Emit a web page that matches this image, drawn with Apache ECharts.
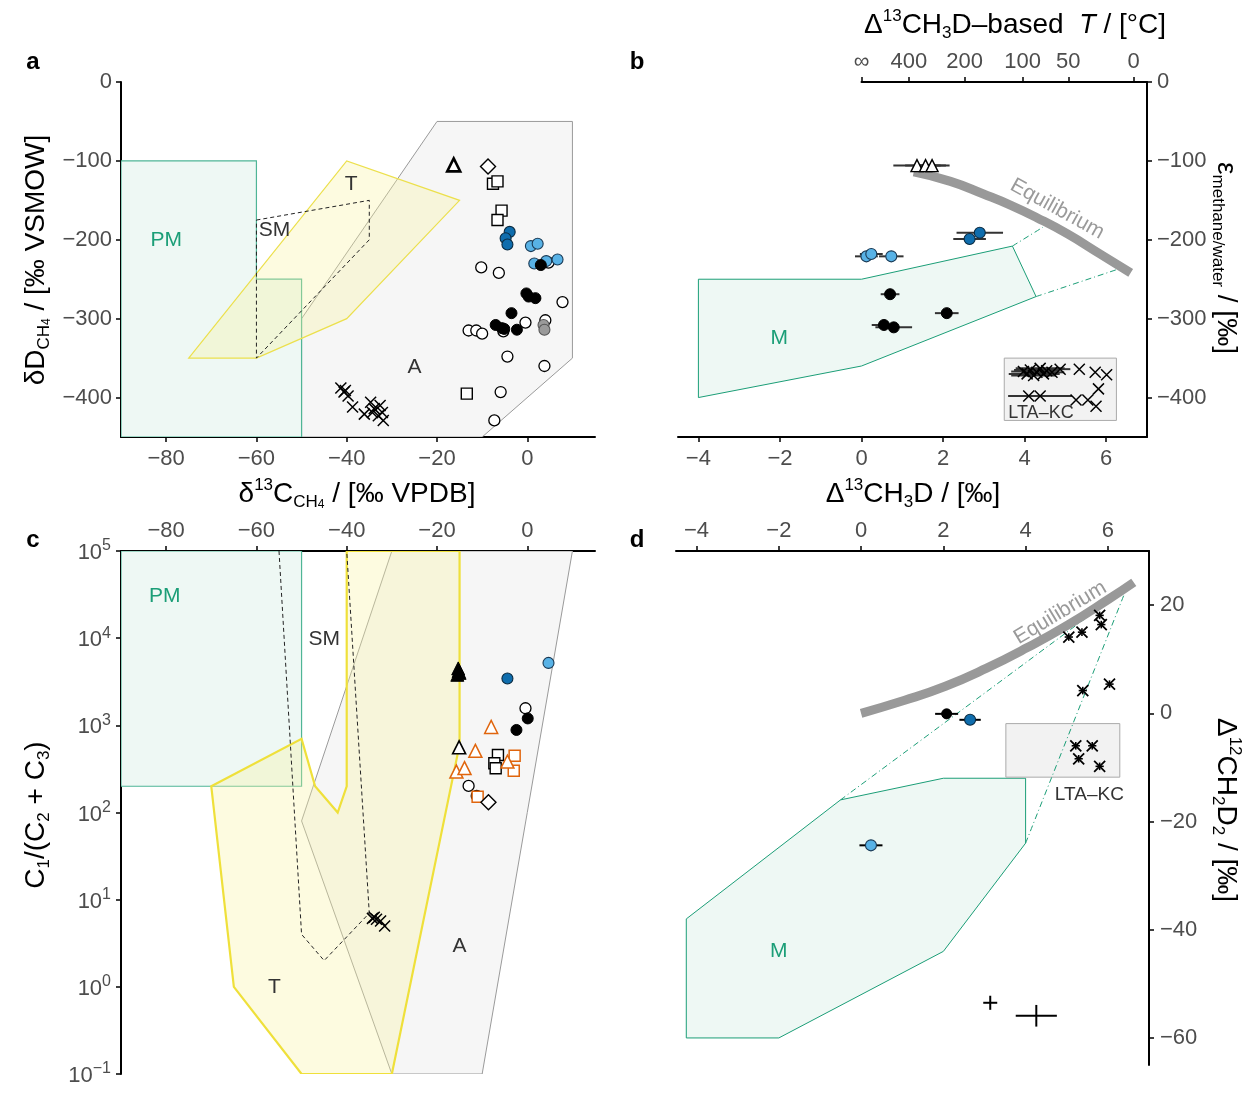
<!DOCTYPE html>
<html><head><meta charset="utf-8">
<script src="https://cdn.jsdelivr.net/npm/echarts@6/dist/echarts.min.js"></script>
<style>html,body{margin:0;padding:0;background:#fff}#c{width:1259px;height:1100px}</style>
</head><body><div id="c"></div>
<script>
// ---------------- tick labels ----------------
const aXTicks = [-80, -60, -40, -20, 0];
const aYTicks = [0, -100, -200, -300, -400];
const bXTicks = [-4, -2, 0, 2, 4, 6];
const bYTicks = [0, -100, -200, -300, -400];
const tTickLabels = ['\u221e', '400', '200', '100', '50', '0'];
const tTickPos = [0, 1.16, 2.53, 3.95, 5.07, 6.67];
const cXTicks = [-80, -60, -40, -20, 0];
const dXTicks = [-4, -2, 0, 2, 4, 6];
const dYTicks = [20, 0, -20, -40, -60];

// ---------------- panel a : dD vs d13C ----------------
const aRegionPM = [[-90,-100],[-60,-100],[-60,-250],[-50,-250],[-50,-450],[-90,-450]];
const aRegionT = [[-75,-350],[-40,-100],[-15,-150],[-40,-300],[-60,-350]];
const aRegionSM = [[-60,-175],[-35,-150],[-35,-200],[-60,-350]];
const aRegionA = [[-20,-50],[10,-50],[10,-350],[-10,-450],[-50,-450],[-50,-300]];
const aOpenCircles = [[-10.2,-235],[-6.3,-242],[7.8,-279],[-0.4,-305],[-13.0,-315],[-11.3,-315],[-10.0,-319],[-5.3,-316],[4.0,-302],[4.7,-229],[-4.4,-348],[3.8,-360],[-5.9,-393],[-7.3,-429]];
const aGreyCircles = [[3.6,-308],[3.8,-314]];
const aLightBlue = [[0.8,-208],[2.3,-205],[1.55,-230],[4.2,-227],[6.7,-225]];
const aBlackCircles = [[3.0,-232],[-0.2,-268],[0.3,-272],[1.8,-274],[-3.5,-293],[-7.0,-308],[-5.6,-312],[-5.1,-313],[-2.3,-314]];
const aDarkBlue = [[-3.9,-190],[-4.8,-198],[-4.4,-206]];
const aSquares = [[-7.6,-129],[-6.6,-126],[-5.7,-163],[-6.6,-175],[-13.4,-395]];
const aTriangles = [[-16.3,-105]];
const aDiamonds = [[-8.7,-107]];
const aCrosses = [[-41.3,-388],[-40.3,-391],[-40.6,-393],[-39.7,-398],[-38.7,-412],[-36.1,-421],[-34.7,-406],[-33.9,-414],[-34.3,-419],[-32.6,-410],[-32.1,-419],[-33.0,-423],[-31.9,-429]];
const aLabels = ['PM','T','SM','A'];
const aLabelPos = [[-80,-200],[-39,-130],[-56,-188],[-25,-362]];

// ---------------- panel b : epsilon vs D13CH3D ----------------
const bRegionM = [[-4,-250],[0,-250],[3.7,-208],[4.28,-272],[0,-360],[-4,-400]];
const bBoxLTA = [[3.5,-350],[6.25,-350],[6.25,-429],[3.5,-429]];
const bDash1 = [[3.7,-208],[4.45,-184]];
const bDash2 = [[4.28,-272],[6.42,-235]];
const bEquilibrium = [[1.28,-114],[2.18,-126],[2.99,-142],[3.65,-156],[4.3,-172],[5.03,-192],[5.85,-218],[6.6,-242]];
// [x, y, x-error]
const bTriangles = [[1.36,-106,0.58],[1.57,-106,0.5],[1.73,-106,0.43]];
const bDarkBlue = [[2.90,-191,0.57],[2.65,-199,0.4]];
const bLightBlue = [[0.12,-221,0.28],[0.24,-218,0.28],[0.73,-221,0.3]];
const bBlack = [[0.70,-269,0.23],[2.09,-293,0.29],[0.55,-308,0.3],[0.79,-311,0.45]];
const bCrosses = [[3.97,-367,0.3],[4.06,-370,0.45],[4.14,-365,0.4],[4.22,-372,0.55],[4.30,-368,0.35],[4.38,-363,0.6],[4.46,-370,0.4],[4.54,-366,0.3],[4.67,-368,0.3],[4.87,-364,0.25],[5.34,-364,0],[5.73,-368,0],[6.01,-371,0],[4.10,-398,0.5],[4.38,-398,0.78],[5.26,-403,0],[5.55,-403,0],[5.81,-389,0],[5.75,-411,0]];
const bLabels = ['M','Equilibrium','LTA\u2013KC'];
const bLabelPos = [[-2.02,-325],[4.8,-161],[4.4,-419]];

// ---------------- panel c : C1/(C2+C3) vs d13C ----------------
const cRegionPM = [[-90,200],[-50,200],[-50,100000],[-90,100000]];
const cRegionT = [[-70,200],[-50,700],[-47,200],[-42,100],[-40,200],[-40,100000],[-15,100000],[-15,600],[-30,0.1],[-50,0.1],[-65,1]];
const cRegionA = [[-30,100000],[10,100000],[-10,0.1],[-30,0.1],[-50,80]];
const cRegionSM = [[-55,100000],[-50,4],[-45,2],[-35,7],[-40,100000]];
const cBlackTriangles = [[-15.3,4500],[-15.0,4000],[-15.5,3800],[-15.2,4200]];
const cOpenTriangles = [[-15.1,560]];
const cOrangeTriangles = [[-8.0,960],[-11.5,510],[-15.7,295],[-13.9,323],[-4.4,384]];
const cDarkBlue = [[-4.4,3450]];
const cLightBlue = [[4.7,5200]];
const cOpenCircles = [[-0.4,1570],[-13.0,202],[-11.2,155]];
const cBlackCircles = [[0.1,1200],[-2.4,885]];
const cSquares = [[-6.5,457],[-7.3,367],[-7.0,322]];
const cOrangeSquares = [[-2.8,447],[-3.0,302],[-11.0,152]];
const cDiamonds = [[-8.6,131]];
const cCrosses = [[-34.3,6.1],[-33.4,5.96],[-32.5,5.7],[-31.6,5.0],[-33.9,6.3]];
const cLabels = ['PM','SM','T','A'];
const cLabelPos = [[-80.3,30000],[-45,9800],[-56,1],[-15,2.9]];

// ---------------- panel d : D12CH2D2 vs D13CH3D ----------------
const dRegionM = [[-4.25,-38],[-4.25,-60],[-2,-60],[2,-44],[4,-24],[4,-12],[2,-12],[-0.5,-16]];
const dBoxLTA = [[3.52,-1.9],[6.29,-1.9],[6.29,-11.8],[3.52,-11.8]];
const dDash1 = [[-0.5,-16],[6.46,23.2]];
const dDash2 = [[4.0,-24],[6.46,23.2]];
const dEquilibrium = [[0,0],[1.06,2.4],[2.05,5.0],[3.04,8.3],[4.03,12.1],[5.02,16.3],[6.02,21.1],[6.63,24.2]];
// [x, y, x-error, y-error]
const dBlack = [[2.08,-0.1,0.28,0.9]];
const dDarkBlue = [[2.65,-1.2,0.26,0]];
const dLightBlue = [[0.24,-24.4,0.28,0]];
const dCrosses = [[5.80,18.1,0.1,0.7],[5.84,16.4,0.1,0.7],[5.05,14.1,0.1,0.7],[5.37,15.0,0.1,0.7],[6.04,5.4,0.1,0.7],[5.39,4.2,0.1,0.7],[5.22,-6.0,0.1,0.7],[5.62,-6.0,0.1,0.7],[5.29,-8.4,0.1,0.7],[5.80,-9.8,0.1,0.7]];
const dRefErrors = [[3.14,-53.5,0.17,1.3],[4.26,-55.9,0.5,2.0]];
const dLabels = ['M','Equilibrium','LTA\u2013KC'];
const dLabelPos = [[-2,-44],[4.84,18.6],[5.55,-15.1]];

// ---------------- styling ----------------
const FONT = '"Liberation Sans", Arial, Helvetica, sans-serif';
const GREEN = '#1b9e77';
const MINT = '#eef8f4';
const DBLUE = '#0f6dad';
const LBLUE = '#58b2e6';
const ORANGE = '#e0650d';
const TICKC = '#4d4d4d';
const TFS = 22;
const minus = v => String(v).replace('-', '\u2212');

function vAxis(grid, pos, min, max, ticks, extra) {
  const ax = {
    gridIndex: grid, type: 'value', position: pos, min, max,
    splitLine: {show: false},
    axisLine: {show: true, onZero: false, lineStyle: {color: '#000', width: 2}},
    axisTick: {show: true, length: 5, lineStyle: {color: '#000', width: 1.5}},
    axisLabel: {color: TICKC, fontSize: TFS, fontFamily: FONT, margin: 9, formatter: minus}
  };
  if (ticks) { ax.axisTick.customValues = ticks; ax.axisLabel.customValues = ticks; }
  if (extra) {
    for (const k in extra) {
      if (typeof extra[k] === 'object' && ax[k]) Object.assign(ax[k], extra[k]); else ax[k] = extra[k];
    }
  }
  return ax;
}

function poly(p, pts, style, z, closed) {
  return {
    type: 'custom', xAxisIndex: p, yAxisIndex: p, data: pts, z, silent: true, clip: true,
    renderItem(params, api) {
      if (params.dataIndex !== 0) return;
      const points = pts.map(q => api.coord(q));
      return {type: closed === false ? 'polyline' : 'polygon', shape: {points}, style};
    }
  };
}
function sc(p, data, symbol, size, fill, stroke, bw, z) {
  return {
    type: 'scatter', xAxisIndex: p, yAxisIndex: p, data: data.map(d => [d[0], d[1]]),
    symbol, symbolSize: size, z: z || 8, silent: true,
    itemStyle: {color: fill, borderColor: stroke, borderWidth: bw, opacity: 1}
  };
}
function errs(p, data, color, lw, z) {
  return {
    type: 'custom', xAxisIndex: p, yAxisIndex: p, z: z || 6, silent: true,
    data: data.map(d => [d[0], d[1], d[2] || 0, d[3] || 0]),
    renderItem(params, api) {
      const x = api.value(0), y = api.value(1), ex = api.value(2), ey = api.value(3);
      const ch = [];
      if (ex > 0) {
        const a = api.coord([x - ex, y]), b = api.coord([x + ex, y]);
        ch.push({type: 'line', shape: {x1: a[0], y1: a[1], x2: b[0], y2: b[1]}, style: {stroke: color, lineWidth: lw}});
      }
      if (ey > 0) {
        const a = api.coord([x, y - ey]), b = api.coord([x, y + ey]);
        ch.push({type: 'line', shape: {x1: a[0], y1: a[1], x2: b[0], y2: b[1]}, style: {stroke: color, lineWidth: lw}});
      }
      return {type: 'group', children: ch};
    }
  };
}
function line(p, data, color, width, dash, z) {
  return {
    type: 'line', xAxisIndex: p, yAxisIndex: p, data, smooth: true, symbol: 'none', z: z || 5, silent: true,
    lineStyle: {color, width, type: dash || 'solid', cap: 'butt'}
  };
}
function texts(p, labels, pos, colors, sizes, rots) {
  return {
    type: 'custom', xAxisIndex: p, yAxisIndex: p, data: pos, z: 12, silent: true, clip: false,
    renderItem(params, api) {
      const i = params.dataIndex;
      const c = api.coord([api.value(0), api.value(1)]);
      return {type: 'text', x: c[0], y: c[1], rotation: (rots ? rots[i] : 0) * Math.PI / 180,
        style: {text: labels[i], fill: colors[i], font: sizes[i] + 'px ' + FONT,
          align: 'center', verticalAlign: 'middle', textAlign: 'center', textVerticalAlign: 'middle'}};
    }
  };
}

const CROSS = 'path://M0,0L10,10M10,0L0,10';
const series = [];
// panel a
series.push(poly(0, aRegionA, {fill: '#f6f6f6', stroke: '#9a9a9a', lineWidth: 1}, 1));
series.push(poly(0, aRegionPM, {fill: MINT, stroke: '#4fb596', lineWidth: 1.2}, 2));
series.push(poly(0, aRegionT, {fill: 'rgba(250,244,160,0.32)', stroke: '#ece04c', lineWidth: 1.2}, 3));
series.push(poly(0, aRegionSM, {fill: 'none', stroke: '#222', lineWidth: 1, lineDash: [4, 3]}, 4));
series.push(sc(0, aCrosses, CROSS, 11, 'rgba(0,0,0,0)', '#000', 1.5));
series.push(sc(0, aOpenCircles, 'circle', 11, '#fff', '#000', 1.3));
series.push(sc(0, aGreyCircles, 'circle', 11, '#9a9a9a', '#555', 1.1));
series.push(sc(0, aLightBlue, 'circle', 11, LBLUE, '#1a3a55', 1.1));
series.push(sc(0, aBlackCircles, 'circle', 11, '#000', '#000', 1));
series.push(sc(0, aDarkBlue, 'circle', 11, DBLUE, '#0a2a40', 1.1));
series.push(sc(0, aSquares, 'rect', 11, '#fff', '#000', 1.4));
series.push(sc(0, aTriangles, 'triangle', 13, '#fff', '#000', 2.6));
series.push(sc(0, aDiamonds, 'diamond', 15, '#fff', '#000', 1.4));
series.push(texts(0, aLabels, aLabelPos, [GREEN, '#333', '#333', '#333'], [21, 21, 21, 21]));
// panel b
series.push(poly(1, bRegionM, {fill: MINT, stroke: GREEN, lineWidth: 1}, 2));
series.push(poly(1, bBoxLTA, {fill: '#f2f2f2', stroke: '#aaa', lineWidth: 1}, 2));
series.push(line(1, bDash1, GREEN, 1, [6, 3, 1, 3]));
series.push(line(1, bDash2, GREEN, 1, [6, 3, 1, 3]));
series.push(line(1, bEquilibrium, '#999', 9));
series.push(errs(1, bCrosses, '#333', 2));
series.push(errs(1, bTriangles, '#333', 2));
series.push(errs(1, bDarkBlue, '#333', 2));
series.push(errs(1, bLightBlue, '#333', 2));
series.push(errs(1, bBlack, '#333', 2));
series.push(sc(1, bCrosses, CROSS, 11, 'rgba(0,0,0,0)', '#000', 1.5));
series.push(sc(1, bTriangles, 'triangle', 12, '#fff', '#000', 1.4));
series.push(sc(1, bDarkBlue, 'circle', 11, DBLUE, '#0a2a40', 1.1));
series.push(sc(1, bLightBlue, 'circle', 11, LBLUE, '#1a3a55', 1.1));
series.push(sc(1, bBlack, 'circle', 11, '#000', '#000', 1));
series.push(texts(1, bLabels, bLabelPos, [GREEN, '#9a9a9a', '#333'], [21, 21, 18], [0, -29, 0]));
// panel c
series.push(poly(3, cRegionA, {fill: '#f6f6f6', stroke: '#9a9a9a', lineWidth: 1}, 1));
series.push(poly(3, cRegionPM, {fill: MINT, stroke: '#4fb596', lineWidth: 1.2}, 2));
series.push(poly(3, cRegionT, {fill: 'rgba(250,244,160,0.32)', stroke: '#efe03a', lineWidth: 2.2}, 3));
series.push(poly(3, cRegionSM, {fill: 'none', stroke: '#222', lineWidth: 1, lineDash: [4, 3]}, 4, false));
series.push(sc(3, cCrosses, CROSS, 11, 'rgba(0,0,0,0)', '#000', 1.5));
series.push(sc(3, cOpenCircles, 'circle', 11, '#fff', '#000', 1.3));
series.push(sc(3, cBlackCircles, 'circle', 11, '#000', '#000', 1));
series.push(sc(3, cDarkBlue, 'circle', 11, DBLUE, '#0a2a40', 1.1));
series.push(sc(3, cLightBlue, 'circle', 11, LBLUE, '#1a3a55', 1.1));
series.push(sc(3, cSquares, 'rect', 11, '#fff', '#000', 1.4));
series.push(sc(3, cOrangeSquares, 'rect', 11, '#fff', ORANGE, 1.5));
series.push(sc(3, cOrangeTriangles, 'triangle', 13, '#fff', ORANGE, 1.5));
series.push(sc(3, cOpenTriangles, 'triangle', 13, '#fff', '#000', 1.6));
series.push(sc(3, cBlackTriangles, 'triangle', 13, '#000', '#000', 1));
series.push(sc(3, cDiamonds, 'diamond', 15, '#fff', '#000', 1.4));
series.push(texts(3, cLabels, cLabelPos, [GREEN, '#333', '#333', '#333'], [21, 21, 21, 21]));
// panel d
series.push(poly(4, dRegionM, {fill: MINT, stroke: GREEN, lineWidth: 1}, 2));
series.push(poly(4, dBoxLTA, {fill: '#f2f2f2', stroke: '#aaa', lineWidth: 1}, 2));
series.push(line(4, dDash1, GREEN, 1, [6, 3, 1, 3]));
series.push(line(4, dDash2, GREEN, 1, [6, 3, 1, 3]));
series.push(line(4, dEquilibrium, '#999', 9));
series.push(errs(4, dCrosses, '#000', 1.6));
series.push(errs(4, dBlack, '#000', 2));
series.push(errs(4, dDarkBlue, '#000', 2));
series.push(errs(4, dLightBlue, '#000', 2));
series.push(errs(4, dRefErrors, '#000', 2));
series.push(sc(4, dCrosses, CROSS, 11, 'rgba(0,0,0,0)', '#000', 1.8));
series.push(sc(4, dBlack, 'circle', 10, '#000', '#000', 1));
series.push(sc(4, dDarkBlue, 'circle', 11, DBLUE, '#0a2a40', 1.1));
series.push(sc(4, dLightBlue, 'circle', 11, LBLUE, '#1a3a55', 1.1));
series.push(texts(4, dLabels, dLabelPos, [GREEN, '#9a9a9a', '#333'], [21, 21, 19], [0, 31, 0]));

// ---------------- titles ----------------
const R = {
  n: {fontSize: 28, fontFamily: FONT, fill: '#000', lineHeight: 34},
  i: {fontSize: 27, fontFamily: FONT, fill: '#000', lineHeight: 34, fontStyle: 'italic'},
  p: {fontSize: 17, fontFamily: FONT, fill: '#000', lineHeight: 14, verticalAlign: 'top'},
  b: {fontSize: 17, fontFamily: FONT, fill: '#000', lineHeight: 12, verticalAlign: 'bottom'},
  bb: {fontSize: 12, fontFamily: FONT, fill: '#000', lineHeight: 6, verticalAlign: 'bottom'}
};
function title(x, y, text, rot) {
  return {type: 'text', x, y, rotation: rot || 0, z: 100,
    style: {text, rich: R, align: 'center', verticalAlign: 'middle', textAlign: 'center', textVerticalAlign: 'middle', fill: '#000'}};
}
function letter(x, y, t) {
  return {type: 'text', x, y, z: 100, style: {text: t, font: 'bold 24px ' + FONT, fill: '#000', align: 'center', verticalAlign: 'middle', textAlign: 'center', textVerticalAlign: 'middle'}};
}
const graphics = [
  letter(33, 62, 'a'), letter(637, 62, 'b'), letter(33, 540, 'c'), letter(637, 540, 'd'),
  title(357, 494, '{n|\u03b4}{p|13}{n|C}{b|CH}{bb|4}{n| / [\u2030 VPDB]}'),
  title(36, 260, '{n|\u03b4D}{b|CH}{bb|4}{n| / [\u2030 VSMOW]}', Math.PI / 2),
  title(913, 494, '{n|\u0394}{p|13}{n|CH}{b|3}{n|D / [\u2030]}'),
  title(1015, 25, '{n|\u0394}{p|13}{n|CH}{b|3}{n|D\u2013based  }{i|T}{n| / [\u00b0C]}'),
  title(1226, 258, '{n|\u03b5}{b|methane/water}{n| / [\u2030]}', -Math.PI / 2),
  title(36, 815, '{n|C}{b|1}{n|/(C}{b|2}{n| + C}{b|3}{n|)}', Math.PI / 2),
  title(1226, 810, '{n|\u0394}{p|12}{n|CH}{b|2}{n|D}{b|2}{n| / [\u2030]}', -Math.PI / 2)
];

const option = {
  animation: false,
  backgroundColor: '#fff',
  grid: [
    {left: 121, top: 82, width: 474, height: 355},
    {left: 678, top: 82, width: 469, height: 355},
    {left: 861.5, top: 82, width: 285.5, height: 355},
    {left: 121, top: 551, width: 474, height: 523},
    {left: 676, top: 551, width: 473, height: 514}
  ],
  xAxis: [
    vAxis(0, 'bottom', -90, 15, aXTicks, {axisLabel: {margin: 11}}),
    vAxis(1, 'bottom', -4.5, 7, bXTicks, {axisLabel: {margin: 11}}),
    vAxis(2, 'top', 0, 7, tTickPos, {axisLabel: {margin: 9, formatter: v => {
      let bi = 0; tTickPos.forEach((t, i) => { if (Math.abs(t - v) < Math.abs(tTickPos[bi] - v)) bi = i; });
      return tTickLabels[bi]; }}}),
    vAxis(3, 'top', -90, 15, cXTicks, {axisLabel: {margin: 9}}),
    vAxis(4, 'top', -4.5, 7, dXTicks, {axisLabel: {margin: 9}})
  ],
  yAxis: [
    vAxis(0, 'left', -450, 0, aYTicks),
    vAxis(1, 'right', -450, 0, bYTicks, {axisLabel: {margin: 10}}),
    {gridIndex: 2, type: 'value', min: 0, max: 1, show: false},
    vAxis(3, 'left', 0.1, 100000, null, {type: 'log', logBase: 10, axisLabel: {margin: 10,
      formatter: v => '{t|10}{s|' + minus(Math.round(Math.log10(v))) + '}',
      rich: {
        t: {fontSize: TFS, fontFamily: FONT, color: TICKC, lineHeight: 26, verticalAlign: 'bottom'},
        s: {fontSize: 16, fontFamily: FONT, color: TICKC, lineHeight: 14, verticalAlign: 'top'}
      }}}),
    vAxis(4, 'right', -65, 30, dYTicks, {axisLabel: {margin: 11}})
  ],
  series,
  graphic: graphics
};
const chart = echarts.init(document.getElementById('c'), null, {renderer: 'canvas'});
chart.setOption(option);
</script></body></html>
